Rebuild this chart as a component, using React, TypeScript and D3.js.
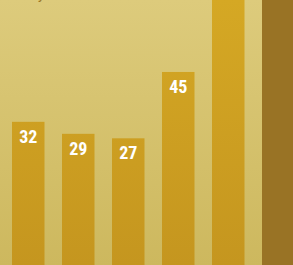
import React from "react";
import * as d3 from "d3";

const categories = ["A", "B", "C", "D", "E", "F"];
const values = [31.8, 28.6, 27.4, 45.1, 80, 100];
const highlight = [false, false, false, false, false, true];

const W = 293;
const H = 265;
const fmt = d3.format(".0f");

export default function App() {
  const x = d3
    .scaleBand<string>()
    .domain(categories)
    .range([12, 12 + categories.length * 50 - 17.5])
    .paddingInner(0.35)
    .paddingOuter(0);
  const y = d3.scaleLinear().domain([-6.4, 64.3]).range([H, 0]);
  const base = y.domain()[0];

  return (
    <svg
      width={W}
      height={H}
      style={{ position: "fixed", left: 0, top: 0, display: "block" }}
    >
      <defs>
        <linearGradient id="bg" x1="0" y1="0" x2="0" y2={H} gradientUnits="userSpaceOnUse">
          <stop offset="0" stopColor="#ddcb7c" />
          <stop offset="1" stopColor="#cdb85e" />
        </linearGradient>
        <linearGradient id="bar" x1="0" y1="0" x2="0" y2={H} gradientUnits="userSpaceOnUse">
          <stop offset="0" stopColor="#d5a824" />
          <stop offset="1" stopColor="#c5961f" />
        </linearGradient>
      </defs>
      <rect x={0} y={0} width={W} height={H} fill="url(#bg)" />
      <text x={38} y={-1} fontSize={14} fontFamily="Roboto, sans-serif" fill="#9a7425">
        y
      </text>
      {categories.map((c, i) => {
        const x0 = x(c)!;
        const top = y(values[i]);
        return (
          <g key={c}>
            <rect
              x={x0}
              y={top}
              width={x.bandwidth()}
              height={y(base) - top}
              fill={highlight[i] ? "#997325" : "url(#bar)"}
            />
            {top + 21 > 0 && (
              <text
                x={x0 + x.bandwidth() / 2}
                y={top + 21}
                textAnchor="middle"
                fill="#ffffff"
                fontWeight="bold"
                fontSize={18}
                fontFamily="'Liberation Sans Narrow', 'Roboto Condensed', Roboto, sans-serif"
              >
                {fmt(values[i])}
              </text>
            )}
          </g>
        );
      })}
    </svg>
  );
}
